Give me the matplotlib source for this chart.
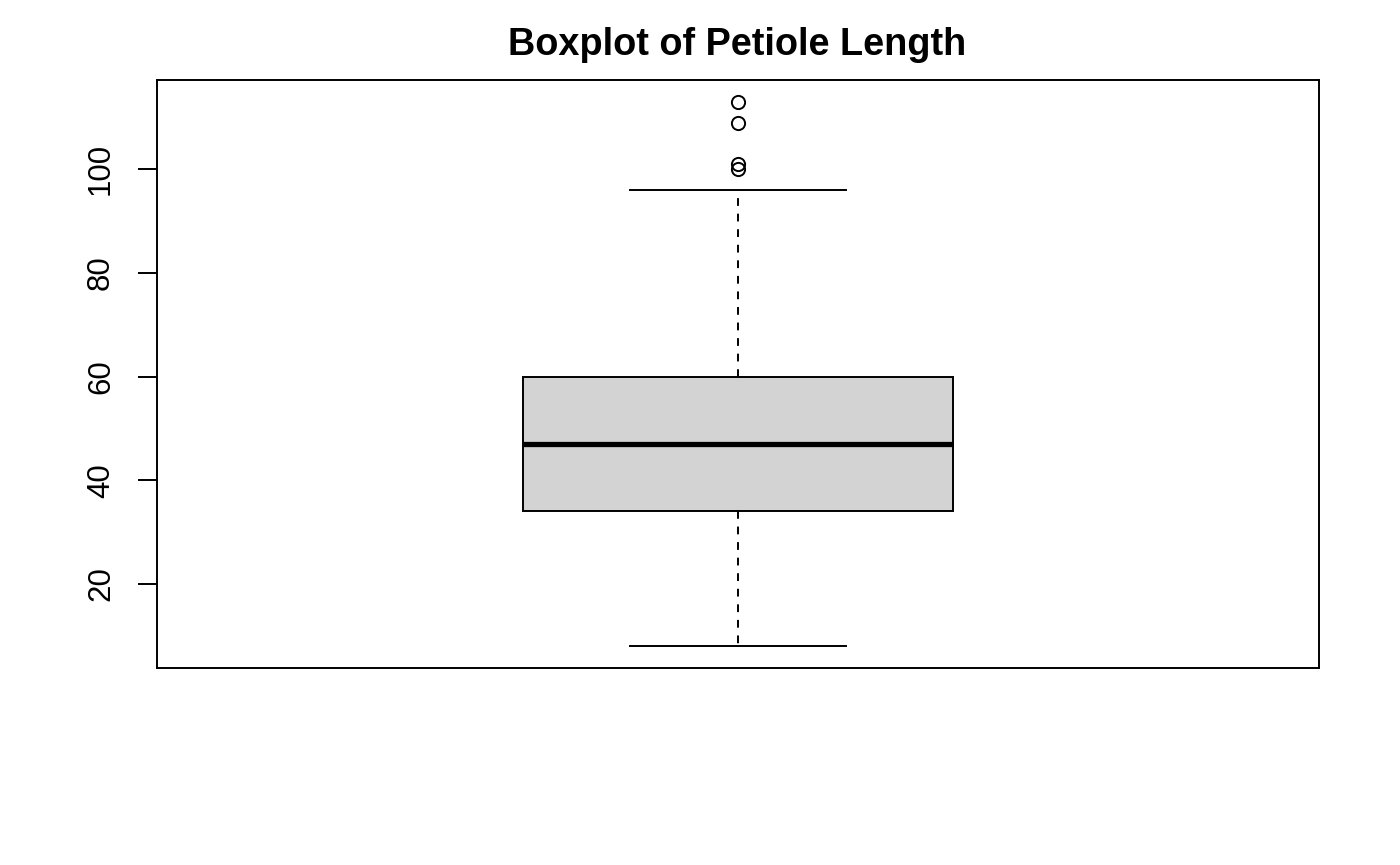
import matplotlib.pyplot as plt

# Summary stats of petiole length
q1 = 34
median = 47
q3 = 60
whisker_low = 8
whisker_high = 96
outliers = [100, 101, 109, 113]

yticks = [20, 40, 60, 80, 100]

plt.rcParams['font.family'] = ['Liberation Sans', 'DejaVu Sans']

fig = plt.figure(figsize=(14, 8.65), dpi=100)
ax = fig.add_axes([0.1121, 0.2277, 0.8300, 0.6798])

stats = [dict(med=median, q1=q1, q3=q3, whislo=whisker_low, whishi=whisker_high,
              fliers=outliers)]
ax.bxp(stats, positions=[1], widths=0.4, capwidths=0.2, patch_artist=True,
       boxprops=dict(facecolor='#d3d3d3', edgecolor='black', linewidth=1.4),
       medianprops=dict(color='black', linewidth=3.8, solid_capstyle='butt'),
       whiskerprops=dict(color='black', linewidth=1.4, linestyle=(0, (4, 4))),
       capprops=dict(color='black', linewidth=1.4),
       flierprops=dict(marker='o', markerfacecolor='none', markeredgecolor='black',
                       markersize=9.5, markeredgewidth=1.4))

ax.set_xlim(0.46, 1.54)
ax.set_ylim(3.8, 117.2)
ax.set_xticks([])
ax.set_yticks(yticks)
ax.set_yticklabels([str(t) for t in yticks], rotation=90, va='center', fontsize=22.5)
ax.tick_params(axis='y', length=13.5, width=1.4, pad=16)
for s in ax.spines.values():
    s.set_linewidth(1.4)

fig.text(0.5268, 0.948, 'Boxplot of Petiole Length', ha='center', va='center',
         fontsize=27.3, fontweight='bold')

fig.savefig('out.png', dpi=100)
